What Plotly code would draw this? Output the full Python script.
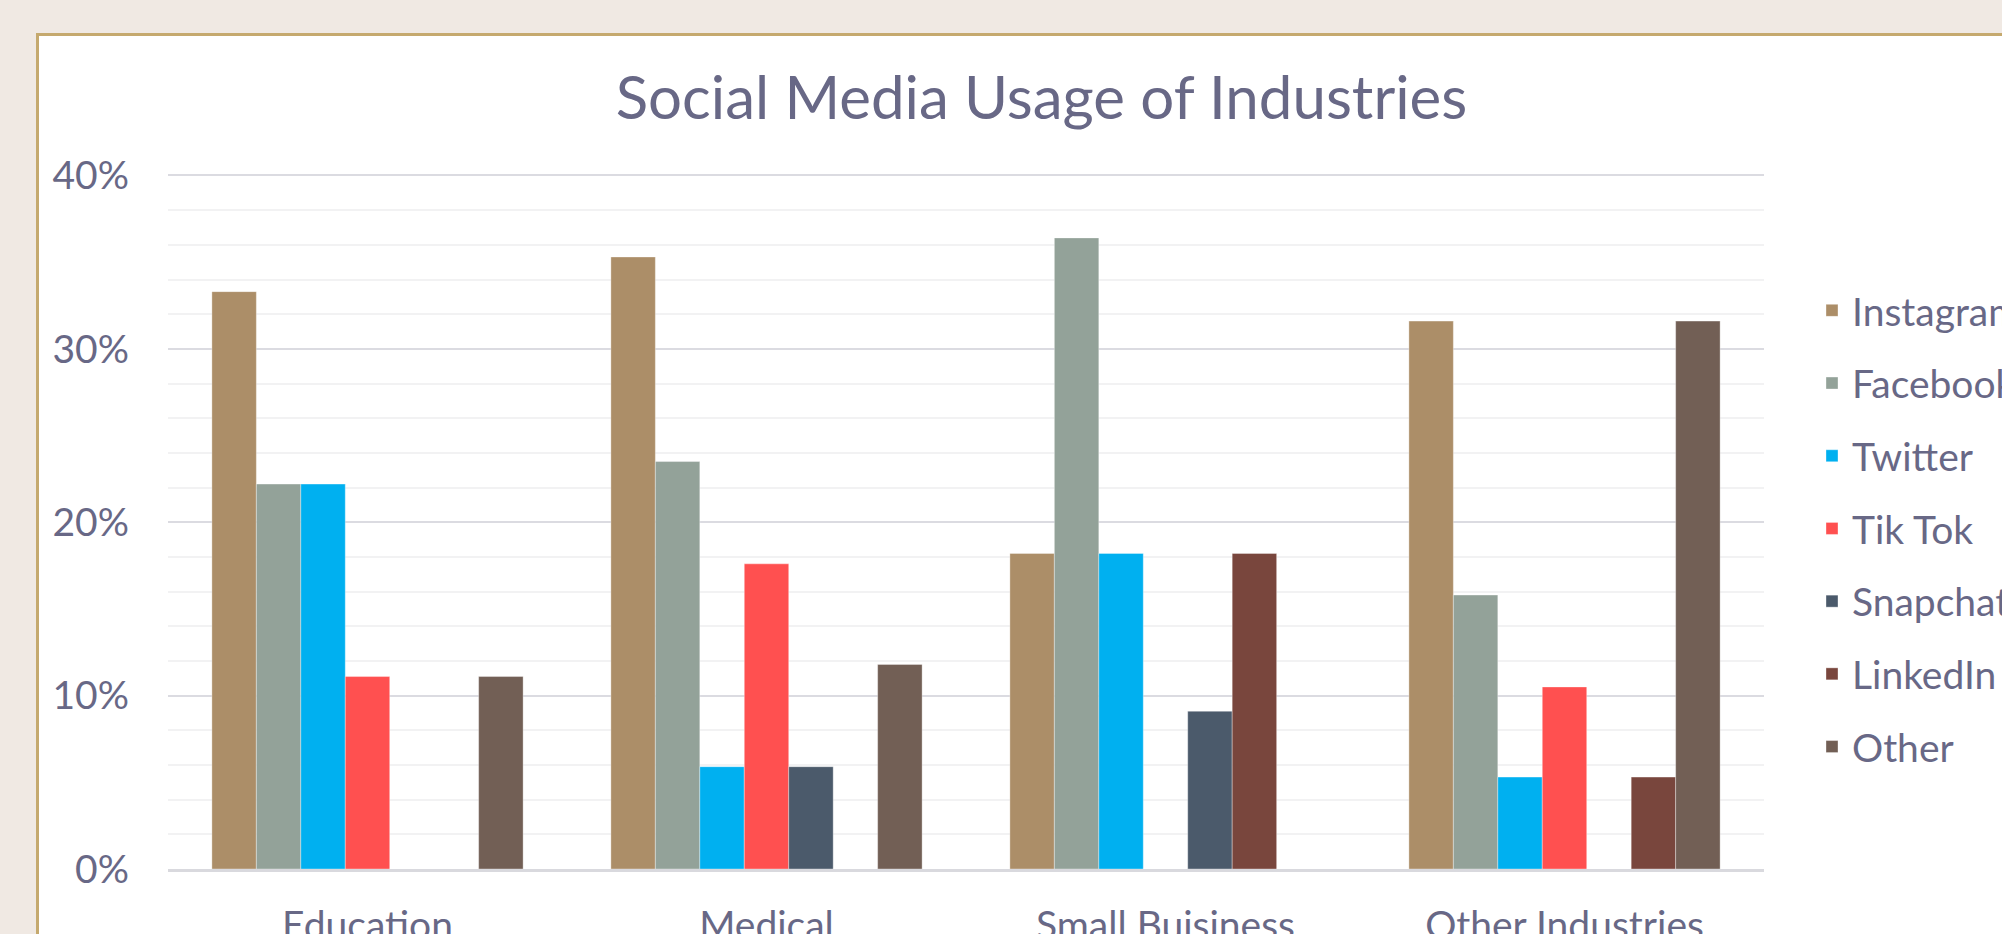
import plotly.graph_objects as go

# ---------------- data ----------------
categories = ["Education", "Medical", "Small Buisiness", "Other Industries"]
platforms = ["Instagram", "Facebook", "Twitter", "Tik Tok", "Snapchat", "LinkedIn", "Other"]

instagram = [0.333, 0.353, 0.182, 0.316]
facebook = [0.222, 0.235, 0.364, 0.158]
twitter = [0.222, 0.059, 0.182, 0.053]
tiktok = [0.111, 0.176, 0.0, 0.105]
snapchat = [0.0, 0.059, 0.091, 0.0]
linkedin = [0.0, 0.0, 0.182, 0.053]
other = [0.111, 0.118, 0.0, 0.316]

series = [instagram, facebook, twitter, tiktok, snapchat, linkedin, other]
colors = ["#AC8E68", "#93A299", "#00B0F0", "#FF5050", "#4B5A6B", "#79463D", "#725F55"]

# ---------------- layout geometry ----------------
W, H = 2002, 934
Y_TOP = 0.402                 # a hair above 40% so the 40% gridline is drawn
PX_PER_UNIT = 694 / 0.40      # 0% at y=869, 40% at y=175
ML, MR, MB = 168, 238, 65
MT = round(175 - (Y_TOP - 0.40) * PX_PER_UNIT)
PW = W - ML - MR
PH = H - MT - MB
TEXT = "#686886"
FONT = "Lato"


def px_to_paper_x(px):
    return (px - ML) / PW


def px_to_paper_y(py):
    return (H - MB - py) / PH


fig = go.Figure()
for name, vals, col in zip(platforms, series, colors):
    fig.add_trace(go.Bar(
        name=name,
        x=categories,
        y=vals,
        marker=dict(color=col, line=dict(color="rgba(255,255,255,0.35)", width=1)),
        legendgroup=name,
    ))

fig.update_layout(
    width=W,
    height=H,
    margin=dict(l=ML, r=MR, t=MT, b=MB, autoexpand=False),
    paper_bgcolor="#F0E9E3",
    plot_bgcolor="white",
    font=dict(family=FONT, color=TEXT),
    barmode="group",
    bargap=0.22,
    bargroupgap=0,
    title=dict(
        text="Social Media Usage of Industries",
        font=dict(family=FONT, size=60, color=TEXT),
        xref="container", x=1041.5 / W, xanchor="center",
        yref="container", y=1 - 98 / H, yanchor="middle",
    ),
    legend=dict(
        xref="container", x=1812 / W, xanchor="left",
        yref="paper", y=px_to_paper_y(528.5), yanchor="middle",
        font=dict(family=FONT, size=39, color=TEXT),
        bgcolor="rgba(0,0,0,0)",
        traceorder="grouped",
        tracegroupgap=19,
    ),
    shapes=[dict(
        type="rect", xref="paper", yref="paper", layer="below",
        x0=px_to_paper_x(37.5), x1=px_to_paper_x(2150),
        y0=px_to_paper_y(1100), y1=px_to_paper_y(34.5),
        fillcolor="white", line=dict(color="#C5A96E", width=3),
    )],
)

fig.update_xaxes(
    type="category",
    showgrid=False,
    showline=True, linecolor="#D9D9DE", linewidth=3,
    ticks="",
    ticklabelstandoff=20,
    tickfont=dict(family=FONT, size=39, color=TEXT),
    fixedrange=True,
)
fig.update_yaxes(
    range=[0, Y_TOP],
    tickvals=[0, 0.1, 0.2, 0.3, 0.4],
    tickformat=".0%",
    showgrid=True, gridcolor="#DBDBE1", gridwidth=2,
    minor=dict(tickvals=[0.02, 0.04, 0.06, 0.08, 0.12, 0.14, 0.16, 0.18,
                         0.22, 0.24, 0.26, 0.28, 0.32, 0.34, 0.36, 0.38],
               showgrid=True, gridcolor="#F2F2F3", gridwidth=2),
    zeroline=False,
    showline=False,
    ticks="",
    ticklabelstandoff=38,
    tickfont=dict(family=FONT, size=39, color=TEXT),
    fixedrange=True,
)

fig.write_html("out.html")
